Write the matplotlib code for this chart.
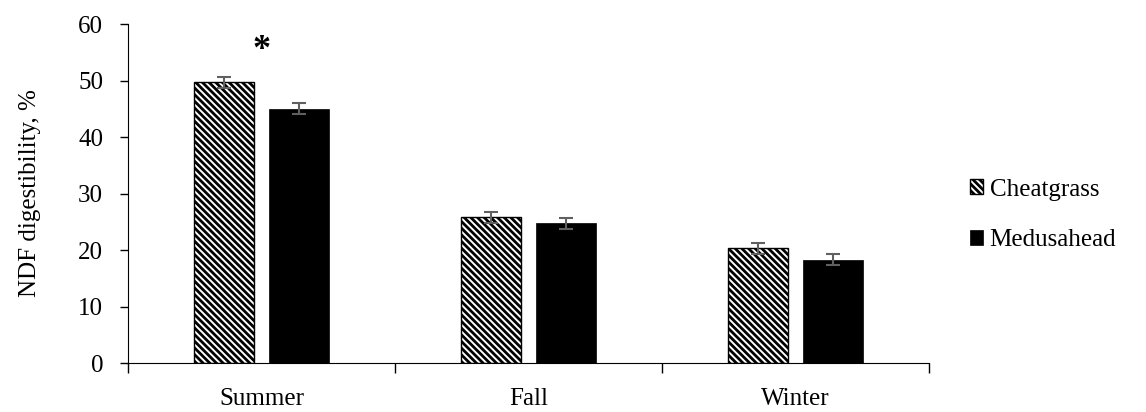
import numpy as np
import matplotlib
matplotlib.use('Agg')
import matplotlib.pyplot as plt

seasons = ['Summer', 'Fall', 'Winter']
cheatgrass = [49.7, 25.8, 20.3]
cheatgrass_err = [1.0, 1.0, 1.0]
medusahead = [45.0, 24.7, 18.3]
medusahead_err = [1.0, 1.0, 1.0]
star_labels = ['*', '', '']

plt.rcParams['font.family'] = ['Liberation Serif', 'DejaVu Serif']
plt.rcParams['hatch.linewidth'] = 2.0

fig = plt.figure(figsize=(11.46, 4.12), dpi=100)
ax = fig.add_axes([0.1117, 0.1189, 0.699, 0.8228])

x = np.arange(len(seasons))
w = 0.225
off = 0.14
ekw = dict(ecolor='#606060', elinewidth=1.5, capthick=1.5)
ax.bar(x - off, cheatgrass, w, yerr=cheatgrass_err, capsize=5, error_kw=ekw,
       facecolor='white', edgecolor='black', linewidth=1.0, hatch='\\' * 5,
       label='Cheatgrass')
ax.bar(x + off, medusahead, w, yerr=medusahead_err, capsize=5, error_kw=ekw,
       color='black', edgecolor='black', linewidth=0.5, label='Medusahead')

for i, s in enumerate(star_labels):
    if s:
        ax.text(x[i], max(cheatgrass[i], medusahead[i]) + 5.7, s, ha='center',
                va='center', fontsize=26, fontweight='bold')

ax.set_xlim(-0.5, len(seasons) - 0.5)
ax.set_ylim(0, 60)
ax.set_yticks(np.arange(0, 61, 10))
ax.set_xticks(np.arange(-0.5, len(seasons), 1.0))
ax.set_xticklabels([])
ax.set_xticks(x, minor=True)
ax.set_xticklabels(seasons, minor=True)
ax.tick_params(axis='x', which='major', direction='out', length=7, width=1)
ax.tick_params(axis='x', which='minor', length=0, pad=18, labelsize=18)
ax.tick_params(axis='y', direction='out', length=6, width=1, labelsize=18, pad=12)

ax.spines['top'].set_visible(False)
ax.spines['right'].set_visible(False)
ax.set_ylabel('NDF digestibility, %', fontsize=18)
ax.yaxis.set_label_coords(-0.108, 0.5)

ax.legend(loc='center left', bbox_to_anchor=(0.846, 0.478), bbox_transform=fig.transFigure,
          frameon=False, fontsize=18, handlelength=0.55, handleheight=0.55,
          handletextpad=0.25, labelspacing=1.15, borderpad=0, borderaxespad=0)

fig.savefig('out.png', dpi=100)
